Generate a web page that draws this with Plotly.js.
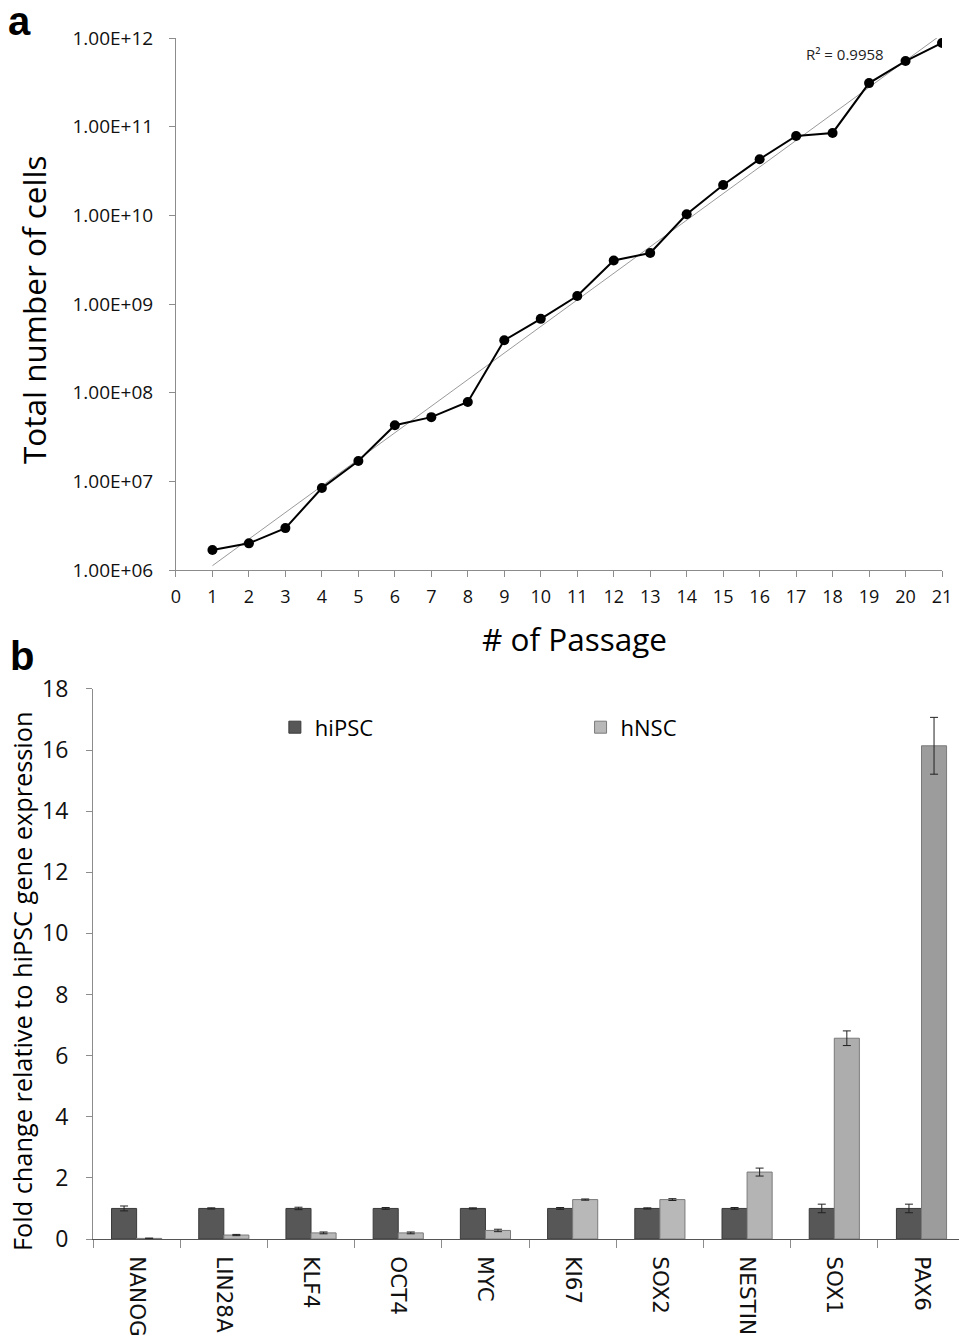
<!DOCTYPE html>
<html><head><meta charset="utf-8">
<script src="https://cdn.plot.ly/plotly-3.0.1.min.js"></script>
<style>html,body{margin:0;padding:0;background:#fff}</style>
</head><body><div id="chart" style="width:959px;height:1342px"></div>
<script>
// ---- Panel a: growth curve ----
const passages = [1,2,3,4,5,6,7,8,9,10,11,12,13,14,15,16,17,18,19,20,21];
const totalCells = [1.68e6,2.0e6,2.97e6,8.4e6,1.7e7,4.3e7,5.3e7,7.85e7,3.9e8,6.8e8,1.23e9,3.1e9,3.76e9,1.03e10,2.2e10,4.3e10,7.85e10,8.5e10,3.1e11,5.5e11,8.8e11];
const passageTicks = [0,1,2,3,4,5,6,7,8,9,10,11,12,13,14,15,16,17,18,19,20,21];
const cellTickVals = [1e6,1e7,1e8,1e9,1e10,1e11,1e12];
const cellTickText = ["1.00E+06","1.00E+07","1.00E+08","1.00E+09","1.00E+10","1.00E+11","1.00E+12"];
const rSquaredLabel = "R² = 0.9958";
const xTitleA = "# of Passage";
const yTitleA = "Total number of cells";

// ---- Panel b: gene expression ----
const genes = ["NANOG","LIN28A","KLF4","OCT4","MYC","KI67","SOX2","NESTIN","SOX1","PAX6"];
const hiPSC = [1,1,1,1,1,1,1,1,1,1];
const hiPSCErr = [0.08,0.02,0.04,0.03,0.02,0.03,0.02,0.03,0.14,0.14];
const hNSC = [0.02,0.13,0.2,0.2,0.28,1.29,1.29,2.19,6.57,16.14];
const hNSCErr = [0.01,0.02,0.03,0.03,0.04,0.02,0.03,0.13,0.24,0.93];
const yTitleB = "Fold change relative to hiPSC gene expression";

// exponential trendline (least squares on log10)
const ly = totalCells.map(v => Math.log10(v));
const n = passages.length;
const mx = passages.reduce((a,b)=>a+b,0)/n, my = ly.reduce((a,b)=>a+b,0)/n;
let sxy=0, sxx=0;
for (let i=0;i<n;i++){ sxy += (passages[i]-mx)*(ly[i]-my); sxx += (passages[i]-mx)**2; }
const slope = sxy/sxx, icpt = my - slope*mx;
const trendX = [passages[0], passages[n-1]];
const trendY = trendX.map(x => Math.pow(10, icpt + slope*x));

const FONT = "Open Sans, Liberation Sans, sans-serif";
const AX = "#8c8c8c";

const traces = [
  {x: trendX, y: trendY, xaxis:'x', yaxis:'y', mode:'lines', line:{color:'#9a9a9a', width:1}, showlegend:false, hoverinfo:'skip'},
  {x: passages, y: totalCells, xaxis:'x', yaxis:'y', mode:'lines+markers', line:{color:'#000', width:2}, marker:{color:'#000', size:10}, showlegend:false},
  {x: genes, y: hiPSC, xaxis:'x2', yaxis:'y2', type:'bar', name:'hiPSC', legend:'legend',
   marker:{color:'#575757', line:{color:'#3a3a3a', width:1}},
   error_y:{type:'data', array:hiPSCErr, visible:true, color:'#222', thickness:1, width:4}},
  {x: genes, y: hNSC, xaxis:'x2', yaxis:'y2', type:'bar', name:'hNSC', legend:'legend2',
   marker:{color:['#b8b8b8','#b8b8b8','#b8b8b8','#b8b8b8','#b8b8b8','#b8b8b8','#b8b8b8','#b4b4b4','#adadad','#9c9c9c'], line:{color:'#7a7a7a', width:1}},
   error_y:{type:'data', array:hNSCErr, visible:true, color:'#222', thickness:1, width:4}}
];

const layout = {
  width:959, height:1342,
  margin:{l:93, r:0, t:38, b:103},
  paper_bgcolor:'#fff', plot_bgcolor:'rgba(0,0,0,0)',
  font:{family:FONT, color:'#000'},
  bargap:0.425, bargroupgap:0, barmode:'group',
  xaxis:{domain:[0.0958,0.9804], anchor:'y', range:[0,21], tickvals:passageTicks,
    showline:true, linecolor:AX, linewidth:1, ticks:'outside', ticklen:6, tickcolor:AX,
    showgrid:false, zeroline:false, tickfont:{size:18, family:FONT, color:'#111'}, ticklabelstandoff:4},
  yaxis:{domain:[0.557,1], anchor:'x', type:'log', range:[6,12], tickvals:cellTickVals, ticktext:cellTickText,
    showline:true, linecolor:AX, linewidth:1, ticks:'outside', ticklen:6, tickcolor:AX,
    showgrid:false, zeroline:false, tickfont:{size:19, family:FONT, color:'#111'}, ticklabelstandoff:12},
  xaxis2:{domain:[0,1], anchor:'y2', type:'category', range:[-0.5,9.43],
    showline:true, linecolor:'#555', linewidth:1, ticks:'outside', ticklen:8, tickcolor:AX, tickson:'boundaries',
    tickangle:90, showgrid:false, tickfont:{size:21.5, family:'DejaVu Sans', color:'#111'}, ticklabelstandoff:12},
  yaxis2:{domain:[0,0.458], anchor:'x2', range:[0,18], dtick:2,
    showline:true, linecolor:AX, linewidth:1, ticks:'outside', ticklen:6, tickcolor:AX,
    showgrid:false, zeroline:false, tickfont:{size:23, family:FONT, color:'#111'}, ticklabelstandoff:13},
  legend:{x:0.21, y:0.426, xanchor:'left', yanchor:'middle', orientation:'h', font:{size:22, family:FONT}, bgcolor:'rgba(0,0,0,0)', itemwidth:30},
  legend2:{x:0.563, y:0.426, xanchor:'left', yanchor:'middle', orientation:'h', font:{size:22, family:FONT}, bgcolor:'rgba(0,0,0,0)', itemwidth:30},
  annotations:[
    {text:rSquaredLabel, xref:'x', yref:'y', x:18.34, y:11.82, showarrow:false, font:{size:15, family:FONT, color:'#222'}},
    {text:xTitleA, xref:'paper', yref:'paper', x:(574.5-93)/866, y:(1239-638)/1201, xanchor:'center', yanchor:'middle', showarrow:false, font:{size:31.5, family:FONT}},
    {text:yTitleA, xref:'paper', yref:'paper', x:(33-93)/866, y:(1239-310)/1201, xanchor:'center', yanchor:'middle', textangle:-90, showarrow:false, font:{size:31.5, family:FONT}},
    {text:yTitleB, xref:'paper', yref:'paper', x:(22-93)/866, y:(1239-982)/1201, xanchor:'center', yanchor:'middle', textangle:-90, showarrow:false, font:{size:25.3, family:FONT}},
    {text:'<b>a</b>', xref:'paper', yref:'paper', x:-0.1, y:1.034, xanchor:'left', yanchor:'top', showarrow:false, font:{size:40, family:'Liberation Sans'}},
    {text:'<b>b</b>', xref:'paper', yref:'paper', x:-0.098, y:0.505, xanchor:'left', yanchor:'top', showarrow:false, font:{size:40, family:'Liberation Sans'}}
  ]
};

Plotly.newPlot('chart', traces, layout, {displayModeBar:false, staticPlot:true});
</script>
</body></html>
